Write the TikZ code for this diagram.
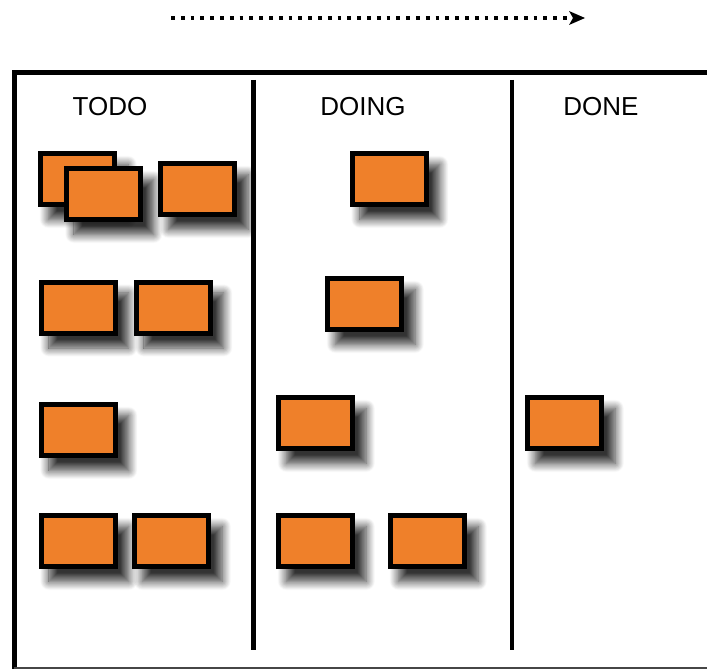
\documentclass[tikz,border=0pt]{standalone}
\usepackage{fontspec}
\setmainfont{Liberation Sans}
\usetikzlibrary{shadows.blur,arrows.meta}
\definecolor{cardorange}{RGB}{239,128,42}
\definecolor{bottomgray}{RGB}{70,70,70}
\tikzset{
  card/.style={draw=black, line width=5pt, fill=cardorange, inner sep=0pt,
    minimum width=74pt, minimum height=51pt,
    blur shadow={shadow xshift=10pt, shadow yshift=-12pt, shadow scale=1.08, shadow blur radius=8pt, shadow blur steps=14, shadow opacity=80}},
  coltitle/.style={font=\fontsize{26}{30}\selectfont, inner sep=0pt, anchor=base},
  boardline/.style={line width=5pt, draw=black},
  divider/.style={line width=4.5pt, draw=black},
  flowarrow/.style={line width=3.8pt, dash pattern=on 3.8pt off 6pt, -{Stealth[length=16pt,width=14pt,inset=4pt,line width=0pt]}}
}
\begin{document}
\begin{tikzpicture}[x=1pt,y=-1pt]
\useasboundingbox (0,0) rectangle (707,669);
% flow arrow
\coordinate (arrS) at (171,18);
\coordinate (arrE) at (585,18);
\draw[flowarrow] (arrS) -- (arrE);
% board
\draw[boardline] (14,669) -- (14,72.5) -- (710,72.5);
\draw[line width=1.5pt, draw=bottomgray] (14,668) -- (710,668);
\draw[divider] (253.5,80) -- (253.5,650);
\draw[divider] (511.8,80) -- (511.8,650);
% titles
\node[coltitle] (todo) at (110,115.5) {TODO};
\node[coltitle] (doing) at (363,115.5) {DOING};
\node[coltitle] (done) at (601,115) {DONE};
% TODO cards
\node[card] (cA) at (77.5,179) {};
\node[card] (cB) at (103,194) {};
\node[card] (cC) at (197.5,189) {};
\node[card] (cD) at (78,307.5) {};
\node[card] (cE) at (173,307.5) {};
\node[card] (cF) at (78,430) {};
\node[card] (cM) at (78,541) {};
\node[card] (cN) at (171.5,541) {};
% DOING cards
\node[card] (cG) at (389,179) {};
\node[card] (cH) at (364.5,304) {};
\node[card] (cI) at (315.5,423) {};
\node[card] (cK) at (315.5,541) {};
\node[card] (cL) at (427.5,541) {};
% DONE cards
\node[card] (cJ) at (564.5,423) {};
\end{tikzpicture}
\end{document}
